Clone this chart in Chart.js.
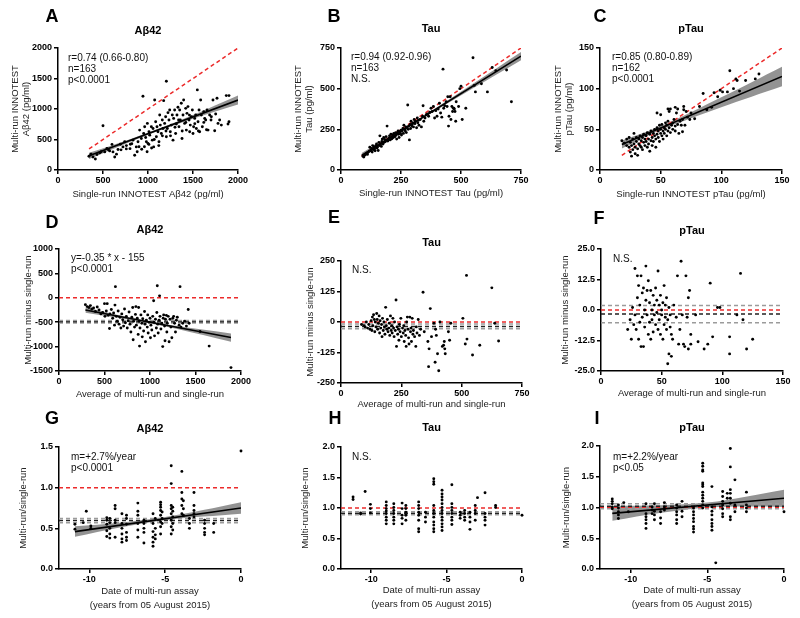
<!DOCTYPE html>
<html><head><meta charset="utf-8">
<script src="https://cdn.jsdelivr.net/npm/chart.js@4.4.1/dist/chart.umd.min.js"></script>
<style>
html,body{margin:0;padding:0;background:#fff;}
#wrap{position:relative;width:800px;height:618px;overflow:hidden;background:#fff;}
canvas{position:absolute;}
</style></head><body><div id="wrap"></div>
<script>
// ---------------- DATA ----------------
// Panel A: Abeta42 single-run (x) vs multi-run (y), pg/ml
const A_points = [[344,225],[367,258],[389,214],[415,181],[433,253],[463,280],[500,725],[519,297],[544,352],[574,313],[611,297],[630,214],[667,335],[693,423],[722,379],[741,462],[759,346],[804,423],[833,489],[852,242],[870,379],[889,462],[907,654],[926,517],[944,1209],[952,599],[963,709],[974,533],[982,462],[993,764],[1000,434],[1011,626],[1019,571],[1037,709],[1048,489],[1056,681],[1063,379],[1074,1148],[1085,791],[1093,544],[1100,709],[1111,626],[1122,462],[1130,901],[1137,736],[1148,599],[1159,819],[1167,681],[1174,1137],[1185,764],[1196,874],[1204,1456],[1204,544],[1215,681],[1222,940],[1233,819],[1241,984],[1248,626],[1259,736],[1270,901],[1278,489],[1285,846],[1296,984],[1307,599],[1315,753],[1322,901],[1333,1028],[1344,709],[1352,984],[1359,819],[1370,1094],[1378,517],[1389,901],[1396,1148],[1407,764],[1419,1011],[1426,654],[1433,929],[1444,1039],[1456,819],[1463,626],[1470,736],[1482,874],[1493,984],[1500,599],[1507,709],[1519,846],[1530,901],[1537,681],[1548,1313],[1556,791],[1567,984],[1574,626],[1585,1148],[1593,901],[1604,709],[1619,956],[1630,846],[1641,819],[1656,984],[1667,654],[1685,901],[1704,874],[1722,1148],[1741,643],[1752,918],[1767,1176],[1778,764],[1796,819],[1815,736],[1870,1220],[1900,1220],[1900,791],[1889,753],[480,300],[560,330],[600,420],[650,260],[700,330],[760,400],[800,350],[820,430],[880,300],[900,380],[930,340],[960,380],[990,300],[1010,420],[1040,360],[1070,500],[1120,400],[1160,560],[1200,640],[1250,560],[1300,700],[1340,820],[1380,640],[1420,780],[1460,900],[1520,760],[1560,640],[1620,780],[1650,660],[1700,820]];
const A_fit = [[345,232],[2000,1147]];
const A_bandX = [345,800,1150,1500,2000];
const A_bandHi = [282,505,695,901,1222];
const A_bandLo = [182,461,659,841,1072];
const A_identity = [[345,345],[2000,2000]];

// Panel B: Tau
const B_points = [[92,85],[95,80],[100,92],[105,100],[110,96],[112,108],[118,115],[120,140],[125,120],[128,132],[130,110],[132,150],[135,125],[138,140],[140,130],[142,118],[145,150],[148,160],[150,135],[152,142],[155,120],[158,170],[160,150],[162,210],[165,160],[168,145],[170,175],[172,190],[175,160],[178,200],[180,170],[182,188],[185,175],[188,205],[190,185],[192,270],[195,178],[198,190],[200,195],[202,210],[205,185],[208,220],[210,200],[212,192],[215,215],[218,200],[220,225],[222,210],[225,205],[228,230],[230,215],[232,190],[235,228],[238,240],[240,220],[242,200],[245,235],[248,225],[250,245],[252,215],[255,240],[258,255],[260,225],[262,275],[265,250],[268,240],[270,265],[272,230],[275,260],[278,400],[280,250],[282,270],[285,185],[288,280],[290,255],[292,300],[295,270],[298,285],[300,290],[302,265],[305,310],[308,285],[310,300],[315,260],[318,320],[320,290],[322,305],[325,275],[330,310],[335,265],[340,330],[342,395],[345,300],[350,320],[355,340],[360,345],[365,330],[370,355],[375,380],[380,360],[385,390],[390,320],[395,365],[400,330],[405,375],[410,410],[415,350],[420,325],[425,620],[428,380],[432,395],[438,420],[442,390],[445,450],[448,270],[450,330],[455,450],[458,310],[462,390],[465,360],[468,380],[470,380],[472,375],[475,360],[478,300],[480,420],[490,390],[495,500],[500,515],[505,310],[520,380],[550,690],[555,520],[560,480],[585,530],[610,480],[630,630],[645,610],[690,615],[710,420]];
const B_fit = [[86,89],[750,700]];
const B_bandX = [86,250,400,550,750];
const B_bandHi = [104,247,386,530,725];
const B_bandLo = [74,233,370,502,675];
const B_identity = [[86,86],[750,750]];

// Panel C: pTau
const C_points = [[18,36],[20,33],[22,30],[22,38],[24,28],[24,40],[25,22],[25,34],[26,17],[26,30],[27,25],[27,38],[28,32],[28,45],[29,20],[29,28],[30,35],[30,40],[31,26],[31,18],[32,32],[32,38],[33,30],[33,42],[34,28],[34,36],[35,40],[35,25],[36,34],[36,44],[37,30],[37,38],[38,42],[38,35],[39,28],[39,46],[40,38],[40,32],[41,44],[41,23],[42,36],[42,48],[43,40],[43,30],[44,45],[44,35],[45,42],[45,50],[46,38],[46,28],[47,44],[47,52],[48,40],[48,48],[49,35],[49,55],[50,45],[50,50],[51,42],[51,56],[52,48],[52,38],[53,52],[53,45],[54,50],[54,58],[55,55],[55,42],[56,48],[56,60],[57,52],[58,46],[58,75],[59,55],[60,50],[60,58],[61,62],[62,54],[62,48],[63,70],[64,56],[64,75],[65,45],[66,60],[67,55],[68,62],[68,47],[70,55],[71,72],[72,65],[74,62],[75,70],[78,63],[82,78],[85,94],[88,74],[92,77],[94,95],[97,90],[99,98],[101,96],[105,96],[107,122],[110,100],[112,112],[113,110],[115,97],[120,110],[128,112],[131,118],[56,75],[57,72],[62,77],[69,78],[69,74],[47,70],[50,68]];
const C_fit = [[18,31.3],[150,115]];
const C_bandX = [18,40,60,100,150];
const C_bandHi = [36.3,47.8,60.4,89.3,127];
const C_bandLo = [26.3,42.8,55.4,77.3,103];
const C_identity = [[18,18],[150,150]];

// Panel D: Abeta42 Bland-Altman
const D_points = [[290,-140],[310,-180],[330,-200],[345,-160],[360,-230],[380,-210],[400,-280],[420,-190],[440,-250],[460,-330],[480,-300],[500,-120],[505,-380],[520,-270],[530,-120],[540,-360],[555,-630],[560,-330],[575,-240],[590,-420],[600,-310],[610,-560],[615,-150],[620,228],[630,-380],[640,-480],[650,-270],[660,-540],[670,-400],[680,-620],[690,-330],[700,-450],[710,-580],[720,-230],[730,-510],[740,-380],[750,-620],[760,-470],[770,-290],[780,-540],[790,-700],[800,-400],[810,-200],[815,-860],[820,-480],[830,-600],[840,-340],[845,-180],[850,-560],[860,-420],[870,-750],[875,-200],[880,-480],[885,-990],[890,-620],[900,-350],[910,-520],[915,-800],[920,-430],[930,-680],[940,-280],[945,-540],[950,-900],[960,-460],[970,-600],[975,-350],[980,-720],[990,-500],[1000,-420],[1005,-820],[1010,-560],[1020,-660],[1030,-380],[1040,-60],[1045,-500],[1050,-780],[1060,-440],[1070,-620],[1075,-300],[1080,248],[1085,-540],[1090,-720],[1100,-460],[1105,40],[1110,-380],[1120,-640],[1130,-520],[1140,-1000],[1145,-420],[1150,-350],[1160,-580],[1165,-880],[1170,-440],[1180,-360],[1185,-700],[1190,-520],[1200,-380],[1210,-900],[1220,-440],[1230,-600],[1240,-820],[1250,-420],[1260,-380],[1270,-520],[1280,-700],[1290,-460],[1300,-400],[1320,-560],[1330,228],[1340,-600],[1360,-520],[1380,-480],[1400,-580],[1420,-240],[1430,-520],[1550,-690],[1650,-990],[1890,-1430]];
const D_fit = [[290,-250],[1890,-815]];
const D_bandX = [290,700,1000,1300,1890];
const D_bandHi = [-195,-375,-485,-580,-730];
const D_bandLo = [-305,-425,-525,-640,-900];
const D_meanLines = [-465,-490,-515];

// Panel E: Tau Bland-Altman
const E_points = [[85,-10],[95,-15],[100,-20],[105,0],[110,-25],[115,-10],[120,-30],[125,5],[128,-35],[130,20],[132,-15],[135,30],[138,10],[140,-40],[142,0],[145,-20],[148,35],[150,10],[152,-30],[155,-5],[158,25],[160,-45],[162,5],[165,-25],[168,-10],[170,-60],[172,15],[175,-35],[178,0],[180,-20],[182,-50],[185,60],[188,-15],[190,-30],[192,10],[195,-40],[198,-25],[200,-5],[202,-55],[205,25],[208,-35],[210,-15],[212,-45],[215,15],[218,-25],[220,-60],[222,0],[225,-35],[228,90],[230,-100],[232,-20],[235,-50],[238,-30],[240,-75],[242,-10],[245,-40],[248,15],[250,-60],[255,-25],[258,-45],[260,-15],[262,-80],[265,-35],[268,-55],[270,-100],[272,0],[275,20],[278,-30],[280,-65],[282,-90],[285,20],[288,-40],[290,-25],[292,-80],[295,15],[298,-50],[300,-35],[305,-60],[310,-100],[312,-20],[315,-45],[320,10],[325,-55],[330,-30],[340,122],[345,-40],[360,-80],[365,-110],[363,-183],[370,55],[375,-60],[385,-5],[390,-165],[392,-30],[395,-55],[400,-130],[405,-200],[410,0],[420,-100],[425,-95],[428,-80],[430,-110],[432,-130],[445,-40],[450,-75],[455,-5],[505,15],[515,-90],[520,191],[522,-70],[545,-135],[575,-95],[625,140],[637,-5],[653,-78]];
const E_meanLines = [-8,-18,-28];

// Panel F: pTau Bland-Altman
const F_points = [[22,-8],[24,-4],[25,-12],[26,1],[27,-6],[28,17],[28,-2],[29,-8],[30,5],[30,14],[31,-12],[31,10],[32,-5],[32,2],[33,14],[33,-15],[34,7],[34,-3],[35,-15],[35,9],[36,0],[36,-7],[37,18],[37,4],[38,-2],[38,8],[39,-10],[39,12],[40,3],[40,-5],[41,-12],[41,8],[42,0],[42,-4],[43,6],[43,-9],[44,2],[44,-2],[45,9],[45,-6],[46,-1],[46,4],[47,-8],[47,16],[48,2],[48,-4],[49,-10],[49,6],[50,0],[50,-2],[51,3],[51,-12],[52,10],[52,-6],[53,-3],[53,2],[54,-8],[54,5],[55,-22],[55,-4],[56,-18],[56,1],[57,-2],[57,-7],[58,-19],[58,-10],[59,-12],[60,2],[62,-3],[63,14],[64,-14],[65,-8],[66,20],[67,-2],[68,-14],[69,-15],[70,14],[71,-3],[72,5],[72,-16],[73,8],[74,-14],[74,-10],[78,-2],[80,-13],[85,-16],[88,-14],[90,11],[92,-11],[96,1],[98,1],[106,-11],[106,-18],[112,-2],[115,15],[117,-4],[120,-16],[125,-12]];
const F_meanLines = [1.8,-1.6,-5.2];

// Panel G: Abeta42 ratio vs date (years from 05 Aug 2015)
const G_points = [[-10.95,0.55],[-10.95,0.49],[-10.4,0.57],[-10.2,0.71],[-9.9,0.53],[-9.9,0.50],[-8.85,0.63],[-8.85,0.60],[-8.85,0.55],[-8.85,0.47],[-8.85,0.40],[-8.65,0.62],[-8.65,0.57],[-8.65,0.50],[-8.65,0.43],[-8.65,0.38],[-8.3,0.78],[-8.3,0.74],[-8.3,0.60],[-8.3,0.57],[-8.3,0.39],[-7.85,0.68],[-7.85,0.56],[-7.85,0.50],[-7.85,0.43],[-7.85,0.37],[-7.85,0.33],[-7.55,0.66],[-7.55,0.62],[-7.55,0.55],[-7.55,0.45],[-7.55,0.39],[-7.55,0.35],[-6.8,0.81],[-6.8,0.71],[-6.8,0.66],[-6.8,0.56],[-6.8,0.48],[-6.8,0.39],[-6.4,0.60],[-6.4,0.56],[-6.4,0.50],[-6.4,0.45],[-6.4,0.32],[-5.8,0.68],[-5.8,0.56],[-5.8,0.46],[-5.8,0.39],[-5.8,0.33],[-5.8,0.28],[-5.65,0.62],[-5.65,0.50],[-5.65,0.42],[-5.65,0.37],[-5.3,0.82],[-5.3,0.79],[-5.3,0.76],[-5.3,0.72],[-5.3,0.66],[-5.3,0.58],[-5.3,0.52],[-5.3,0.43],[-5.2,0.70],[-5.2,0.62],[-5.2,0.56],[-4.6,1.27],[-4.6,1.05],[-4.6,0.78],[-4.6,0.74],[-4.6,0.68],[-4.6,0.60],[-4.6,0.52],[-4.6,0.43],[-4.5,0.76],[-4.5,0.71],[-4.5,0.64],[-4.5,0.56],[-4.5,0.48],[-3.9,1.20],[-3.9,0.94],[-3.9,0.86],[-3.9,0.78],[-3.9,0.68],[-3.8,0.84],[-3.8,0.74],[-3.8,0.66],[-3.4,0.62],[-3.4,0.56],[-3.4,0.50],[-3.1,0.94],[-3.1,0.78],[-3.1,0.72],[-3.1,0.68],[-3.1,0.64],[-2.4,0.60],[-2.4,0.56],[-2.4,0.50],[-2.4,0.45],[-2.4,0.42],[-1.8,0.56],[-1.8,0.45],[0,1.45]];
const G_fit = [[-10.95,0.46],[0,0.75]];
const G_bandX = [-10.95,-8,-5,-2.5,0];
const G_bandHi = [0.525,0.57,0.639,0.724,0.82];
const G_bandLo = [0.395,0.51,0.599,0.644,0.68];
const G_meanLines = [0.62,0.595,0.57];

// Panel H: Tau ratio vs date
const H_points = [[-11.2,1.18],[-11.2,1.14],[-10.7,0.92],[-10.7,0.90],[-10.4,1.27],[-10.05,1.06],[-10.05,0.99],[-10.05,0.92],[-9.0,1.10],[-9.0,1.04],[-9.0,0.99],[-9.0,0.95],[-9.0,0.91],[-9.0,0.85],[-9.0,0.80],[-9.0,0.74],[-8.5,1.07],[-8.5,1.01],[-8.5,0.96],[-8.5,0.91],[-8.5,0.85],[-8.5,0.80],[-8.5,0.74],[-7.95,1.08],[-7.95,0.99],[-7.95,0.88],[-7.95,0.83],[-7.95,0.74],[-7.7,1.04],[-7.7,0.99],[-7.7,0.93],[-7.7,0.88],[-7.7,0.80],[-6.85,1.10],[-6.85,1.04],[-6.85,0.99],[-6.85,0.93],[-6.85,0.88],[-6.85,0.80],[-6.85,0.66],[-6.85,0.61],[-6.4,0.93],[-6.4,0.85],[-6.4,0.77],[-5.85,1.48],[-5.85,1.43],[-5.85,1.39],[-5.85,1.04],[-5.85,0.96],[-5.85,0.91],[-5.85,0.85],[-5.85,0.77],[-5.85,0.72],[-5.85,0.66],[-5.85,0.61],[-5.3,1.29],[-5.3,1.23],[-5.3,1.18],[-5.3,1.13],[-5.3,1.07],[-5.3,1.01],[-5.3,0.96],[-5.3,0.91],[-5.3,0.85],[-5.3,0.80],[-5.3,0.74],[-5.3,0.69],[-5.3,0.63],[-4.65,1.38],[-4.65,1.07],[-4.65,1.01],[-4.65,0.96],[-4.65,0.91],[-4.65,0.85],[-4.65,0.80],[-4.65,0.73],[-4.1,0.93],[-4.1,0.88],[-4.1,0.83],[-3.8,0.96],[-3.8,0.91],[-3.8,0.85],[-3.8,0.80],[-3.45,0.93],[-3.45,0.85],[-3.45,0.77],[-3.45,0.65],[-3.1,1.04],[-3.1,0.96],[-3.1,0.91],[-3.1,0.80],[-2.95,1.17],[-2.45,1.25],[-2.45,0.91],[-2.45,0.85],[-2.45,0.80],[-2.45,0.72],[-1.75,1.04],[-1.75,1.01],[0,0.88]];
const H_meanLines = [0.94,0.915,0.89];

// Panel I: pTau ratio vs date
const I_points = [[-11.2,1.14],[-11.2,1.10],[-11.2,1.06],[-11.2,1.01],[-11.2,0.98],[-10.8,1.04],[-10.8,0.99],[-10.8,0.93],[-10.8,0.88],[-10.8,0.82],[-10.45,1.08],[-10.15,0.93],[-9.0,1.06],[-9.0,0.90],[-9.0,0.85],[-9.0,0.80],[-9.0,0.74],[-9.0,0.66],[-8.6,1.01],[-8.6,0.96],[-8.6,0.90],[-8.45,1.06],[-8.45,0.94],[-8.45,0.88],[-8.45,0.80],[-8.05,0.93],[-8.05,0.83],[-8.05,0.74],[-7.8,1.08],[-7.8,1.01],[-7.8,0.96],[-7.0,1.04],[-7.0,0.99],[-7.0,0.93],[-7.0,0.88],[-7.0,0.80],[-7.0,0.74],[-6.65,1.10],[-6.65,0.94],[-6.65,0.85],[-5.9,0.99],[-5.9,0.93],[-5.9,0.88],[-5.9,0.82],[-5.9,0.77],[-5.9,0.69],[-5.9,0.65],[-5.9,0.60],[-5.3,1.72],[-5.3,1.67],[-5.3,1.61],[-5.3,1.59],[-5.3,1.40],[-5.3,1.37],[-5.3,1.34],[-5.3,1.25],[-5.3,1.20],[-5.3,1.15],[-5.3,1.10],[-5.3,1.04],[-5.3,0.99],[-4.7,1.34],[-4.7,1.01],[-4.7,0.94],[-4.7,0.88],[-4.7,0.80],[-4.7,0.74],[-4.7,0.69],[-4.7,0.63],[-4.45,0.10],[-4.0,1.26],[-4.0,1.18],[-4.0,1.10],[-4.0,1.04],[-4.0,0.98],[-4.0,0.90],[-4.0,0.85],[-3.7,1.23],[-3.7,1.15],[-3.5,1.96],[-3.5,1.66],[-3.5,1.29],[-3.5,1.23],[-3.5,1.15],[-3.5,1.07],[-3.5,0.85],[-3.5,0.80],[-3.2,1.45],[-3.2,1.04],[-3.2,0.93],[-2.45,1.25],[-2.45,1.04],[-2.45,0.99],[-2.45,0.93],[0,0.93]];
const I_fit = [[-11.2,0.905],[0,1.15]];
const I_bandX = [-11.2,-8,-5,-2.5,0];
const I_bandHi = [1.025,1.035,1.08,1.175,1.29];
const I_bandLo = [0.785,0.915,1.00,1.015,1.01];
const I_meanLines = [1.06,1.02,0.98];

// axis ticks
const ticksAbeta = [0,500,1000,1500,2000];
const ticksTau = [0,250,500,750];
const ticksPTau = [0,50,100,150];
const ticksD_y = [-1500,-1000,-500,0,500,1000];
const ticksE_y = [-250,-125,0,125,250];
const ticksF_y = [-25,-12.5,0,12.5,25];
const ticksDate = [-10,-5,0];
const ticksRatio15 = [0,0.5,1,1.5];
const ticksRatio20 = [0,0.5,1,1.5,2];

// ---------------- DRAWING ----------------
const FONT = "'Liberation Sans', Arial, Helvetica, sans-serif";
Chart.defaults.font.family = FONT;
const RED = '#ec2b2b', GREY = '#9b9b9b', BAND = 'rgba(105,105,105,0.72)';
const meanColors = [GREY, '#222', GREY];
const wrap = document.getElementById('wrap');

const pts = a => a.map(p => ({x: p[0], y: p[1]}));
const zipXY = (xs, ys) => xs.map((x, i) => ({x, y: ys[i]}));

function makePanel(p) {
  const c = document.createElement('canvas');
  c.width = p.box.w; c.height = p.box.h;
  c.style.left = p.box.l + 'px'; c.style.top = p.box.t + 'px';
  wrap.appendChild(c);
  const lhY = 11, lhX = p.xLH || 12;
  const Hx = p.xTitleY - p.area.B + lhX / 2;
  const ds = [];
  if (p.fit) ds.push({data: pts(p.fit), borderColor: '#000', borderWidth: 1.6, pointRadius: 0, fill: false});
  ds.push({data: pts(p.points), showLine: false, pointRadius: 1.45, pointBackgroundColor: '#000', pointBorderWidth: 0, pointBorderColor: '#000', clip: false});
  if (p.identity) ds.push({data: pts(p.identity), borderColor: RED, borderDash: [4, 3], borderWidth: 1.5, pointRadius: 0, fill: false});
  if (p.meanLines) p.meanLines.forEach((v, i) => ds.push({data: [{x: p.xMin, y: v}, {x: p.xMax, y: v}], borderColor: meanColors[i], borderDash: [4, 3], borderWidth: 1.5, pointRadius: 0, fill: false}));
  if (p.refLine !== undefined) ds.push({data: [{x: p.xMin, y: p.refLine}, {x: p.xMax, y: p.refLine}], borderColor: RED, borderDash: [4, 3], borderWidth: 1.5, pointRadius: 0, fill: false});
  if (p.bandX) {
    ds.push({data: zipXY(p.bandX, p.bandHi), borderColor: 'rgba(0,0,0,0)', borderWidth: 1, pointRadius: 0, tension: 0.35, fill: '+1', backgroundColor: BAND});
    ds.push({data: zipXY(p.bandX, p.bandLo), borderColor: 'rgba(0,0,0,0)', borderWidth: 1, pointRadius: 0, tension: 0.35, fill: false});
  }
  const fmt = d => v => Number(v).toFixed(d);
  const tickFont = {family: FONT, size: 9, weight: 'bold'};
  const titleFontY = {family: FONT, size: 9.5, lineHeight: lhY + 'px'};
  const titleFontX = {family: FONT, size: 9.5, lineHeight: lhX + 'px'};
  const grid = {display: true, drawOnChartArea: false, drawTicks: true, tickLength: 4, color: '#000', lineWidth: 1.5};
  const border = {display: true, color: '#000', width: 1.5};
  const textPlugin = {
    id: 'paneltext',
    afterDraw(chart) {
      const ctx = chart.ctx, a = chart.chartArea;
      ctx.save();
      ctx.fillStyle = '#000';
      ctx.textBaseline = 'middle';
      ctx.textAlign = 'center';
      ctx.font = 'bold 18px ' + FONT;
      ctx.fillText(p.letter, p.letterPos[0] - p.box.l, p.letterPos[1] - p.box.t);
      ctx.font = 'bold 11px ' + FONT;
      ctx.fillText(p.title, (a.left + a.right) / 2, p.titleY - p.box.t);
      ctx.textAlign = 'left';
      ctx.font = '10px ' + FONT;
      ctx.fillStyle = '#111';
      p.notes.forEach((t, i) => ctx.fillText(t, p.notePos[0] - p.box.l, p.notePos[1] - p.box.t + i * 11.2));
      ctx.restore();
    }
  };
  new Chart(c, {
    type: 'line',
    data: {datasets: ds},
    options: {
      responsive: false, animation: false, events: [],
      layout: {padding: {left: 0, top: p.area.T - p.box.t, right: p.box.l + p.box.w - p.area.R, bottom: p.box.t + p.box.h - p.area.B - Hx}},
      plugins: {legend: {display: false}, tooltip: {enabled: false}, title: {display: false}},
      scales: {
        x: {type: 'linear', min: p.xMin, max: p.xMax,
          afterBuildTicks: s => { s.ticks = p.xTicks.map(v => ({value: v})); },
          afterFit: s => { s.height = Hx; },
          ticks: {autoSkip: false, maxRotation: 0, padding: 1, font: tickFont, color: '#000', callback: fmt(p.xDec || 0)},
          grid, border,
          title: {display: true, text: p.xTitle, font: titleFontX, color: '#222', padding: {top: 0, bottom: 0}}},
        y: {type: 'linear', min: p.yMin, max: p.yMax,
          afterBuildTicks: s => { s.ticks = p.yTicks.map(v => ({value: v})); },
          afterFit: s => { s.width = p.area.L - p.box.l; },
          ticks: {autoSkip: false, padding: 2, font: tickFont, color: '#000', callback: fmt(p.yDec || 0)},
          grid, border,
          title: {display: true, text: p.yTitle, font: titleFontY, color: '#222', padding: {top: p.yTitleX - p.box.l - lhY / 2, bottom: 0}}}
      }
    },
    plugins: [textPlugin]
  });
}

const dateTitle = ['Date of multi-run assay', '(years from 05 August 2015)'];
const baTitle = 'Average of multi-run and single-run';

const panels = [
  {letter: 'A', letterPos: [52, 17], title: 'Aβ42', titleY: 31, box: {l: 0, t: 0, w: 265, h: 210}, area: {L: 58, T: 48, R: 238, B: 170},
   yTitleX: 15, xTitleY: 194, xMin: 0, xMax: 2000, yMin: 0, yMax: 2000, xTicks: ticksAbeta, yTicks: ticksAbeta,
   xTitle: 'Single-run INNOTEST Aβ42 (pg/ml)', yTitle: ['Multi-run INNOTEST', 'Aβ42 (pg/ml)'],
   points: A_points, fit: A_fit, bandX: A_bandX, bandHi: A_bandHi, bandLo: A_bandLo, identity: A_identity,
   notes: ['r=0.74 (0.66-0.80)', 'n=163', 'p<0.0001'], notePos: [68, 58]},
  {letter: 'B', letterPos: [334, 17], title: 'Tau', titleY: 29, box: {l: 265, t: 0, w: 280, h: 210}, area: {L: 341, T: 48, R: 521, B: 170},
   yTitleX: 298, xTitleY: 193, xMin: 0, xMax: 750, yMin: 0, yMax: 750, xTicks: ticksTau, yTicks: ticksTau,
   xTitle: 'Single-run INNOTEST Tau (pg/ml)', yTitle: ['Multi-run INNOTEST', 'Tau (pg/ml)'],
   points: B_points, fit: B_fit, bandX: B_bandX, bandHi: B_bandHi, bandLo: B_bandLo, identity: B_identity,
   notes: ['r=0.94 (0.92-0.96)', 'n=163', 'N.S.'], notePos: [351, 57]},
  {letter: 'C', letterPos: [600, 17], title: 'pTau', titleY: 29, box: {l: 530, t: 0, w: 270, h: 210}, area: {L: 600, T: 48, R: 782, B: 170},
   yTitleX: 558, xTitleY: 194, xMin: 0, xMax: 150, yMin: 0, yMax: 150, xTicks: ticksPTau, yTicks: ticksPTau,
   xTitle: 'Single-run INNOTEST pTau (pg/ml)', yTitle: ['Multi-run INNOTEST', 'pTau (pg/ml)'],
   points: C_points, fit: C_fit, bandX: C_bandX, bandHi: C_bandHi, bandLo: C_bandLo, identity: C_identity,
   notes: ['r=0.85 (0.80-0.89)', 'n=162', 'p<0.0001'], notePos: [612, 57]},
  {letter: 'D', letterPos: [52, 223], title: 'Aβ42', titleY: 230, box: {l: 0, t: 200, w: 265, h: 215}, area: {L: 59, T: 249, R: 241, B: 371},
   yTitleX: 28, xTitleY: 394, xMin: 0, xMax: 2000, yMin: -1500, yMax: 1000, xTicks: ticksAbeta, yTicks: ticksD_y,
   xTitle: baTitle, yTitle: 'Multi-run minus single-run',
   points: D_points, fit: D_fit, bandX: D_bandX, bandHi: D_bandHi, bandLo: D_bandLo, meanLines: D_meanLines, refLine: 0,
   notes: ['y=-0.35 * x - 155', 'p<0.0001'], notePos: [71, 258]},
  {letter: 'E', letterPos: [334, 218], title: 'Tau', titleY: 243, box: {l: 265, t: 200, w: 280, h: 215}, area: {L: 341, T: 261, R: 522, B: 383},
   yTitleX: 310, xTitleY: 404, xMin: 0, xMax: 750, yMin: -250, yMax: 250, xTicks: ticksTau, yTicks: ticksE_y,
   xTitle: baTitle, yTitle: 'Multi-run minus single-run',
   points: E_points, meanLines: E_meanLines, refLine: 0,
   notes: ['N.S.'], notePos: [352, 270]},
  {letter: 'F', letterPos: [599, 219], title: 'pTau', titleY: 231, box: {l: 530, t: 200, w: 270, h: 215}, area: {L: 601, T: 249, R: 783, B: 371},
   yTitleX: 565, xTitleY: 393, xMin: 0, xMax: 150, yMin: -25, yMax: 25, xTicks: ticksPTau, yTicks: ticksF_y, yDec: 1,
   xTitle: baTitle, yTitle: 'Multi-run minus single-run',
   points: F_points, meanLines: F_meanLines, refLine: 0,
   notes: ['N.S.'], notePos: [613, 259]},
  {letter: 'G', letterPos: [52, 419], title: 'Aβ42', titleY: 429, box: {l: 0, t: 400, w: 265, h: 218}, area: {L: 59, T: 447, R: 241, B: 569},
   yTitleX: 23, xTitleY: 605, xLH: 13.5, xMin: -12, xMax: 0, yMin: 0, yMax: 1.5, xTicks: ticksDate, yTicks: ticksRatio15, yDec: 1,
   xTitle: dateTitle, yTitle: 'Multi-run/single-run',
   points: G_points, fit: G_fit, bandX: G_bandX, bandHi: G_bandHi, bandLo: G_bandLo, meanLines: G_meanLines, refLine: 1,
   notes: ['m=+2.7%/year', 'p<0.0001'], notePos: [71, 457]},
  {letter: 'H', letterPos: [335, 419], title: 'Tau', titleY: 428, box: {l: 265, t: 400, w: 280, h: 218}, area: {L: 341, T: 447, R: 522, B: 569},
   yTitleX: 305, xTitleY: 604, xLH: 13.5, xMin: -12, xMax: 0, yMin: 0, yMax: 2, xTicks: ticksDate, yTicks: ticksRatio20, yDec: 1,
   xTitle: dateTitle, yTitle: 'Multi-run/single-run',
   points: H_points, meanLines: H_meanLines, refLine: 1,
   notes: ['N.S.'], notePos: [352, 457]},
  {letter: 'I', letterPos: [597, 419], title: 'pTau', titleY: 428, box: {l: 530, t: 400, w: 270, h: 218}, area: {L: 600, T: 446, R: 784, B: 569},
   yTitleX: 566, xTitleY: 604, xLH: 13.5, xMin: -12, xMax: 0, yMin: 0, yMax: 2, xTicks: ticksDate, yTicks: ticksRatio20, yDec: 1,
   xTitle: dateTitle, yTitle: 'Multi-run/single-run',
   points: I_points, fit: I_fit, bandX: I_bandX, bandHi: I_bandHi, bandLo: I_bandLo, meanLines: I_meanLines, refLine: 1,
   notes: ['m=+2.2%/year', 'p<0.05'], notePos: [613, 457]}
];
panels.forEach(makePanel);
</script></body></html>
